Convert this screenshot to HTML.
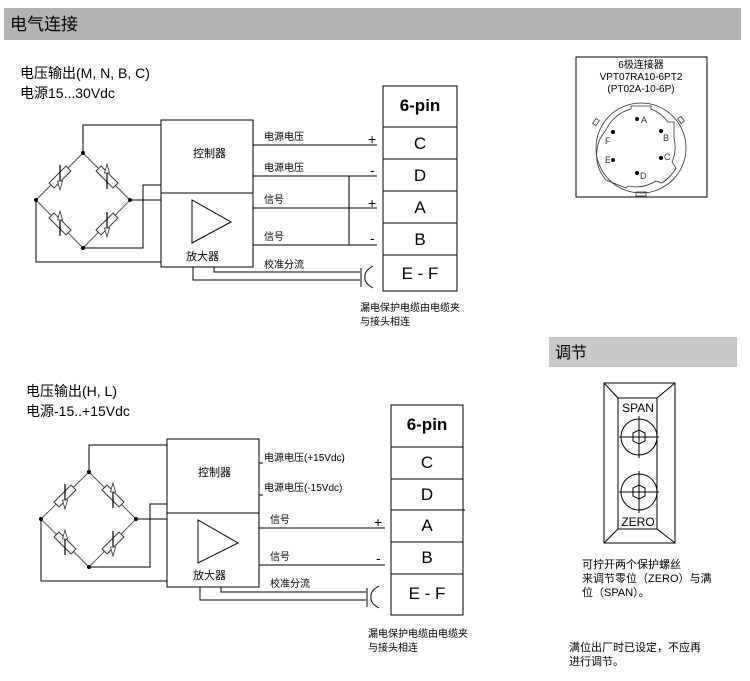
<!DOCTYPE html>
<html><head><meta charset="utf-8"><style>
html,body{margin:0;padding:0;background:#fff;}
svg{display:block;font-family:"Liberation Sans","Noto Sans CJK SC",sans-serif;}
</style></head><body>
<svg width="750" height="681" viewBox="0 0 750 681" xmlns="http://www.w3.org/2000/svg">
<defs>
<g id="res"><rect x="-12" y="-3.5" width="24" height="7" fill="#fff" stroke="#333" stroke-width="1"/></g>
<g id="arrD"><line x1="0" y1="-12" x2="0" y2="8" stroke="#000" stroke-width="1.2"/><path d="M-2.5,4 L0,13 L2.5,4 Z" fill="#fff" stroke="#333" stroke-width="0.8"/></g>
<g id="arrU"><line x1="0" y1="-8" x2="0" y2="12" stroke="#000" stroke-width="1.2"/><path d="M-2.5,-4 L0,-13 L2.5,-4 Z" fill="#fff" stroke="#333" stroke-width="0.8"/></g>
</defs>
<rect x="4" y="8" width="737" height="32" fill="#b3b3b3"/>
<text x="10" y="30" font-size="17" fill="#000">电气连接</text>

<!-- Diagram 1 -->
<text x="20" y="78" font-size="14">电压输出(M, N, B, C)</text>
<text x="20" y="98" font-size="14">电源15...30Vdc</text>
<g stroke="#000" stroke-width="1" fill="none">
<rect x="161" y="120" width="92" height="147"/>
<line x1="161" y1="193" x2="253" y2="193"/>
<path d="M192,200 L192,243 L231,222 Z"/>
<path d="M83,153 L36,200 L83,248 L130,200 Z" stroke="#555"/>
<path d="M83,153 V125 H161"/>
<path d="M130,200 H161"/>
<path d="M83,248 H143 V185 H161"/>
<path d="M36,200 V262 H161"/>
<line x1="253" y1="145" x2="377" y2="145"/>
<line x1="253" y1="176" x2="377" y2="176"/>
<line x1="253" y1="208" x2="377" y2="208"/>
<line x1="253" y1="245" x2="377" y2="245"/>
<line x1="349" y1="176" x2="349" y2="245"/>
<path d="M214,267 V272 H360"/>
<path d="M193,267 V280 H360"/>
<path d="M361,268 V287 M373,266 Q364,271 365,277 Q364,283 373,288"/>
<rect x="383" y="86" width="74" height="205"/>
<line x1="383" y1="127" x2="457" y2="127"/>
<line x1="383" y1="159" x2="457" y2="159"/>
<line x1="383" y1="191" x2="457" y2="191"/>
<line x1="383" y1="223" x2="457" y2="223"/>
<line x1="383" y1="255" x2="457" y2="255"/>
</g>
<g fill="#000">
<circle cx="83" cy="153" r="2"/><circle cx="36" cy="200" r="2"/><circle cx="130" cy="200" r="2"/><circle cx="83" cy="248" r="2"/>
</g>
<use href="#res" transform="translate(60,177) rotate(-45)"/><use href="#arrD" transform="translate(60,177)"/>
<use href="#res" transform="translate(107,177) rotate(45)"/><use href="#arrU" transform="translate(107,177)"/>
<use href="#res" transform="translate(60,224) rotate(45)"/><use href="#arrU" transform="translate(60,224)"/>
<use href="#res" transform="translate(107,224) rotate(-45)"/><use href="#arrD" transform="translate(107,224)"/>
<g font-size="11">
<text x="193" y="157">控制器</text>
<text x="186" y="260">放大器</text>
<text x="264" y="140" font-size="10">电源电压</text>
<text x="264" y="171" font-size="10">电源电压</text>
<text x="264" y="203" font-size="10">信号</text>
<text x="264" y="240" font-size="10">信号</text>
<text x="264" y="268" font-size="10">校准分流</text>
<text x="368" y="144" font-size="14">+</text><text x="370" y="175" font-size="14">-</text>
<text x="368" y="208" font-size="14">+</text><text x="370" y="243" font-size="14">-</text>
<text x="360" y="311" font-size="10">漏电保护电缆由电缆夹</text>
<text x="360" y="325" font-size="10">与接头相连</text>
</g>
<g font-size="17" text-anchor="middle">
<text x="420" y="111" font-weight="bold">6-pin</text>
<text x="420" y="149">C</text><text x="420" y="181">D</text>
<text x="420" y="213">A</text><text x="420" y="245">B</text>
<text x="420" y="279">E - F</text>
</g>

<!-- Diagram 2 -->
<text x="26" y="396" font-size="14">电压输出(H, L)</text>
<text x="26" y="416" font-size="14">电源-15..+15Vdc</text>
<g stroke="#000" stroke-width="1" fill="none">
<rect x="167" y="439" width="92" height="148"/>
<line x1="167" y1="513" x2="259" y2="513"/>
<path d="M198,520 L198,563 L238,543 Z"/>
<path d="M89,472 L41,519 L89,567 L136,519 Z" stroke="#555"/>
<path d="M89,472 V445 H167"/>
<path d="M136,519 H167"/>
<path d="M89,567 H150 V504 H167"/>
<path d="M41,519 V581 H167"/>
<line x1="259" y1="463" x2="263" y2="463"/>
<line x1="259" y1="495" x2="263" y2="495"/>
<line x1="259" y1="528" x2="385" y2="528"/>
<line x1="259" y1="565" x2="385" y2="565"/>
<path d="M221,587 V592 H366"/>
<path d="M200,587 V600 H366"/>
<path d="M367,588 V607 M379,586 Q370,591 371,597 Q370,603 379,608"/>
<rect x="391" y="405" width="72" height="210"/>
<line x1="391" y1="447" x2="463" y2="447"/>
<line x1="391" y1="479" x2="463" y2="479"/>
<line x1="391" y1="510" x2="465" y2="510"/>
<line x1="391" y1="542" x2="463" y2="542"/>
<line x1="391" y1="574" x2="463" y2="574"/>
</g>
<g fill="#000">
<circle cx="89" cy="472" r="2"/><circle cx="41" cy="519" r="2"/><circle cx="136" cy="519" r="2"/><circle cx="89" cy="567" r="2"/>
</g>
<use href="#res" transform="translate(65,496) rotate(-45)"/><use href="#arrD" transform="translate(65,496)"/>
<use href="#res" transform="translate(113,496) rotate(45)"/><use href="#arrU" transform="translate(113,496)"/>
<use href="#res" transform="translate(65,543) rotate(45)"/><use href="#arrU" transform="translate(65,543)"/>
<use href="#res" transform="translate(113,543) rotate(-45)"/><use href="#arrD" transform="translate(113,543)"/>
<g font-size="11">
<text x="198" y="476">控制器</text>
<text x="193" y="579">放大器</text>
<text x="264" y="461" font-size="10">电源电压(+15Vdc)</text>
<text x="264" y="491" font-size="10">电源电压(-15Vdc)</text>
<text x="270" y="523" font-size="10">信号</text>
<text x="270" y="560" font-size="10">信号</text>
<text x="270" y="587" font-size="10">校准分流</text>
<text x="374" y="527" font-size="14">+</text><text x="376" y="563" font-size="14">-</text>
<text x="368" y="637" font-size="10">漏电保护电缆由电缆夹</text>
<text x="368" y="651" font-size="10">与接头相连</text>
</g>
<g font-size="17" text-anchor="middle">
<text x="427" y="430" font-weight="bold">6-pin</text>
<text x="427" y="468">C</text><text x="427" y="500">D</text>
<text x="427" y="531">A</text><text x="427" y="563">B</text>
<text x="427" y="599">E - F</text>
</g>

<!-- Connector -->
<rect x="576" y="57" width="131" height="140" fill="none" stroke="#000"/>
<g font-size="10" text-anchor="middle">
<text x="641" y="68">6极连接器</text>
<text x="641" y="80">VPT07RA10-6PT2</text>
<text x="641" y="92">(PT02A-10-6P)</text>
</g>
<g stroke="#333" stroke-width="0.8" fill="none">
<circle cx="641" cy="148" r="45"/>
<path d="M631,109 L631,106 L651,106 L651,109 A38,38 0 0 1 668,122 L674,122 L674,138 A38,38 0 0 1 672,162 L676,168 A42,42 0 0 1 662,183 L656,181 A38,38 0 0 1 628,186 L626,188 L606,180 A38,38 0 0 1 606,130 A38,38 0 0 1 631,109 Z"/>
<rect x="593" y="120" width="6" height="4" transform="rotate(-55 596 122)"/>
<rect x="678" y="118" width="6" height="4" transform="rotate(55 681 120)"/>
<rect x="636" y="192" width="10" height="4"/>
</g>
<g fill="#000">
<circle cx="637" cy="119" r="2"/><circle cx="613" cy="132" r="2"/><circle cx="661" cy="131" r="2"/>
<circle cx="613" cy="160" r="2"/><circle cx="661" cy="158" r="2"/><circle cx="637" cy="173" r="2"/>
</g>
<g font-size="9" fill="#333">
<text x="641" y="123">A</text><text x="605" y="144">F</text><text x="663" y="141">B</text>
<text x="605" y="163">E</text><text x="664" y="160">C</text><text x="640" y="179">D</text>
</g>

<!-- Adjust -->
<rect x="549" y="337" width="188" height="30" fill="#c8c8c8"/>
<text x="555" y="358" font-size="16">调节</text>
<g stroke="#000" stroke-width="1" fill="none">
<rect x="604" y="383" width="71" height="160"/>
<rect x="618" y="398" width="39" height="131"/>
<path d="M604,383 L618,398 M675,383 L657,398 M604,543 L618,529 M675,543 L657,529"/>
<circle cx="639" cy="437" r="18"/>
<circle cx="639" cy="492" r="18"/>
<path d="M619,437 H659 M639,416 V458 M619,492 H659 M639,471 V513"/>
<path d="M633,433 L639,430 L645,433 L645,441 L639,444 L633,441 Z"/>
<path d="M633,488 L639,485 L645,488 L645,496 L639,499 L633,496 Z"/>
</g>
<g font-size="12" text-anchor="middle" fill="#000">
<text x="638" y="412">SPAN</text>
<text x="638" y="526">ZERO</text>
</g>
<g font-size="11">
<text x="582" y="568">可拧开两个保护螺丝</text>
<text x="582" y="582">来调节零位（ZERO）与满</text>
<text x="582" y="596">位（SPAN）。</text>
<text x="569" y="651">满位出厂时已设定，不应再</text>
<text x="569" y="665">进行调节。</text>
</g>
</svg>
</body></html>
